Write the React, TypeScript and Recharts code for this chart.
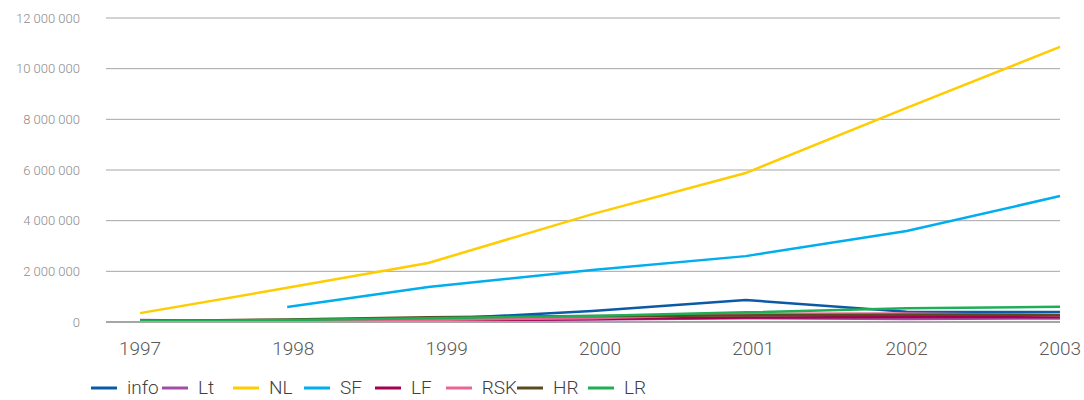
import React from "react";
import { LineChart, Line, XAxis, YAxis, CartesianGrid, Legend } from "recharts";

// x positions of the data points (years)
const years = [1997, 1997.96, 1998.88, 1999.95, 2000.95, 2002, 2003];
const yearTicks = [1997, 1998, 1999, 2000, 2001, 2002, 2003];
const valueTicks = [0, 2000000, 4000000, 6000000, 8000000, 10000000, 12000000];

const info = [20000, 50000, 100000, 430000, 870000, 400000, 390000];
const Lt = [80000, 20000, 50000, 100000, 150000, 120000, 140000];
const NL = [350000, 1350000, 2330000, 4260000, 5880000, 8450000, 10860000];
const SF = [null, 590000, 1380000, 2050000, 2600000, 3590000, 4970000];
const LF = [10000, 30000, 60000, 120000, 180000, 200000, 200000];
const RSK = [10000, 40000, 80000, 150000, 320000, 340000, 270000];
const HR = [30000, 100000, 190000, 240000, 260000, 290000, 280000];
const LR = [30000, 80000, 150000, 240000, 380000, 540000, 600000];

const seriesNames = ["info", "Lt", "NL", "SF", "LF", "RSK", "HR", "LR"];
const seriesValues = [info, Lt, NL, SF, LF, RSK, HR, LR];
const seriesColors = ["#0b5aa6", "#a24ca6", "#ffcc00", "#00aeef", "#a3004f", "#ea6593", "#5a4a1f", "#1fae54"];

const data = years.map((t, i) => {
  const row: Record<string, number | null> = { t };
  seriesNames.forEach((n, k) => {
    row[n] = seriesValues[k][i];
  });
  return row;
});

const FONT = "Roboto, 'DejaVu Sans Condensed', sans-serif";

const fmt = (v: number) => String(v).replace(/\B(?=(\d{3})+(?!\d))/g, " ");

const LegendContent = () => (
  <div style={{ display: "flex", paddingLeft: 91, paddingTop: 10, fontFamily: FONT, fontWeight: 300 }}>
    {seriesNames.map((n, k) => (
      <div key={n} style={{ width: 71, display: "flex", alignItems: "center" }}>
        <svg width={26} height={4} style={{ marginRight: 10 }}>
          <line x1={0} y1={2} x2={26} y2={2} stroke={seriesColors[k]} strokeWidth={3} />
        </svg>
        <span style={{ fontSize: 19, color: "#404040", lineHeight: "20px" }}>{n}</span>
      </div>
    ))}
  </div>
);

export default function App() {
  return (
    <div style={{ position: "absolute", left: 0, top: 0, width: 1084, height: 400, background: "#fff" }}>
      <LineChart width={1084} height={400} data={data} margin={{ top: 18, right: 24, left: 0, bottom: 0 }}>
        <CartesianGrid vertical={false} stroke="#a6a6a6" strokeWidth={1} />
        <XAxis
          dataKey="t"
          type="number"
          domain={[1997, 2003]}
          ticks={yearTicks}
          padding={{ left: 34, right: 0 }}
          tickLine={false}
          axisLine={{ stroke: "#a6a6a6", strokeWidth: 2 }}
          height={46}
          tickMargin={14}
          tick={{ fill: "#595959", fontSize: 19, fontFamily: FONT, fontWeight: 300 }}
        />
        <YAxis
          domain={[0, 12000000]}
          ticks={valueTicks}
          width={106}
          tickLine={false}
          axisLine={false}
          tickSize={0}
          tickMargin={26}
          tickFormatter={fmt}
          tick={{ fill: "#8c8c8c", fontSize: 13, fontFamily: FONT, fontWeight: 300 }}
        />
        <Legend verticalAlign="bottom" height={32} content={<LegendContent />} />
        {seriesNames.map((n, k) => (
          <Line
            key={n}
            dataKey={n}
            stroke={seriesColors[k]}
            strokeWidth={2.5}
            dot={false}
            type="linear"
            isAnimationActive={false}
            connectNulls={false}
          />
        ))}
      </LineChart>
    </div>
  );
}
